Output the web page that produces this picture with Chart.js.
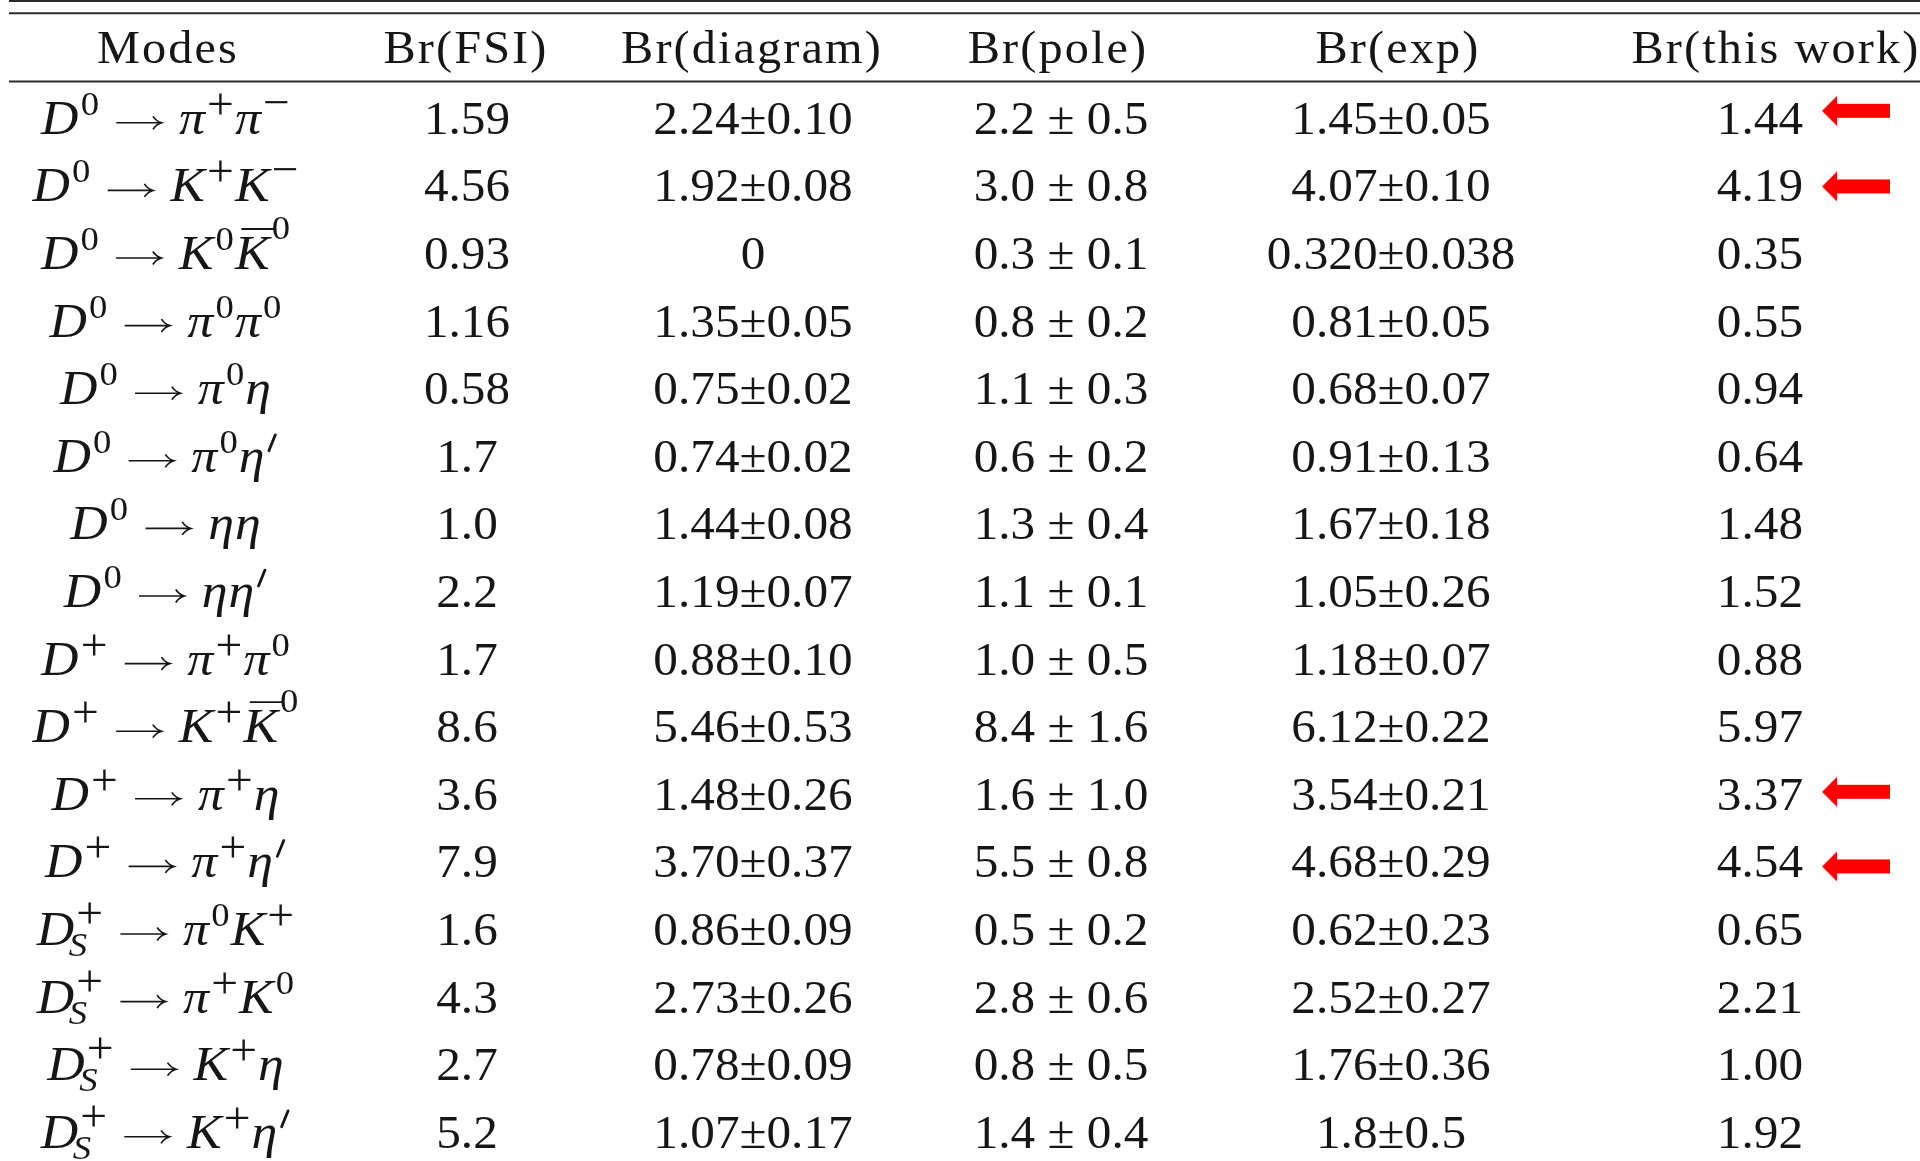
<!DOCTYPE html>
<html>
<head>
<meta charset="utf-8">
<script src="https://cdn.jsdelivr.net/npm/chart.js@4.4.0/dist/chart.umd.min.js"></script>
<style>
  html, body { margin: 0; padding: 0; background: #fff; }
  #wrap { width: 1920px; height: 1161px; }
</style>
</head>
<body>
<div id="wrap"><canvas id="tabla"></canvas></div>
<script>
// Cabeceras de columna
const headers = ['Modes', 'Br(FSI)', 'Br(diagram)', 'Br(pole)', 'Br(exp)', 'Br(this work)'];

// Modos de desintegración: ^ superíndice, _ subíndice, ~ barra sobre la letra, ' prima
const modes = [
    'D^0 → π^+π^-', 'D^0 → K^+K^-', 'D^0 → K^0~K^0', 'D^0 → π^0π^0',
    'D^0 → π^0η', "D^0 → π^0η'", 'D^0 → ηη', "D^0 → ηη'",
    'D^+ → π^+π^0', 'D^+ → K^+~K^0', 'D^+ → π^+η', "D^+ → π^+η'",
    'D_S^+ → π^0K^+', 'D_S^+ → π^+K^0', 'D_S^+ → K^+η', "D_S^+ → K^+η'"
];

const brFSI = ['1.59', '4.56', '0.93', '1.16', '0.58', '1.7', '1.0', '2.2',
    '1.7', '8.6', '3.6', '7.9', '1.6', '4.3', '2.7', '5.2'];

const brDiagram = ['2.24±0.10', '1.92±0.08', '0', '1.35±0.05', '0.75±0.02', '0.74±0.02',
    '1.44±0.08', '1.19±0.07', '0.88±0.10', '5.46±0.53', '1.48±0.26', '3.70±0.37',
    '0.86±0.09', '2.73±0.26', '0.78±0.09', '1.07±0.17'];

const brPole = ['2.2 ± 0.5', '3.0 ± 0.8', '0.3 ± 0.1', '0.8 ± 0.2', '1.1 ± 0.3', '0.6 ± 0.2',
    '1.3 ± 0.4', '1.1 ± 0.1', '1.0 ± 0.5', '8.4 ± 1.6', '1.6 ± 1.0', '5.5 ± 0.8',
    '0.5 ± 0.2', '2.8 ± 0.6', '0.8 ± 0.5', '1.4 ± 0.4'];

const brExp = ['1.45±0.05', '4.07±0.10', '0.320±0.038', '0.81±0.05', '0.68±0.07', '0.91±0.13',
    '1.67±0.18', '1.05±0.26', '1.18±0.07', '6.12±0.22', '3.54±0.21', '4.68±0.29',
    '0.62±0.23', '2.52±0.27', '1.76±0.36', '1.8±0.5'];

const brThisWork = ['1.44', '4.19', '0.35', '0.55', '0.94', '0.64', '1.48', '1.52',
    '0.88', '5.97', '3.37', '4.54', '0.65', '2.21', '1.00', '1.92'];

// Filas marcadas con flecha roja
const marked = [0, 1, 10, 11];

// ---- Maquetación ----
const FONT = '"Liberation Serif", "Times New Roman", serif';
const INK = '#161616';
const colX = [166, 467, 753, 1061, 1391, 1803];
const colAlign = ['center', 'center', 'center', 'center', 'center', 'right'];
const headX = [168, 466, 752, 1058, 1398, 1776];
const headerRow = -1.047;
const ruleRows = [-1.743, -1.562, -0.552];
const arrowX = 1856;
const arrowLift = [8, 0, 3, -4];
const stretchValues = 1.07;
const stretchHeader = 1.05;
const stretchModes = 1.08;

// Fila i -> y = i ; la escala se ajusta para 67.6 px por fila
const yMin = -118.8 / 67.6;
const yMax = (1161 - 118.8) / 67.6;

function parseMode(str) {
    const toks = [];
    let bar = false;
    for (let i = 0; i < str.length; i++) {
        const c = str[i];
        if (c === ' ') continue;
        if (c === '→') { toks.push({ arrow: true }); continue; }
        if (c === '~') { bar = true; continue; }
        const tk = { base: c, bar: bar };
        bar = false;
        while (i + 1 < str.length && "^_'".includes(str[i + 1])) {
            const m = str[i + 1];
            if (m === "'") { tk.prime = true; i += 1; }
            else {
                let v = str[i + 2];
                if (v === '-') v = '−';
                if (m === '^') tk.sup = v; else tk.sub = v;
                i += 2;
            }
        }
        toks.push(tk);
    }
    return toks;
}

// Dibuja (o mide) una fórmula; devuelve su ancho
function formula(ctx, toks, x0, base, draw) {
    let x = x0;
    ctx.textAlign = 'left';
    ctx.textBaseline = 'alphabetic';
    toks.forEach(tk => {
        if (tk.arrow) {
            x += 15;
            if (draw) {
                const ay = base - 11;
                ctx.strokeStyle = INK;
                ctx.lineWidth = 1.6;
                ctx.beginPath();
                ctx.moveTo(x, ay);
                ctx.lineTo(x + 41, ay);
                ctx.moveTo(x + 34, ay - 6.5);
                ctx.quadraticCurveTo(x + 37, ay - 1.5, x + 42, ay);
                ctx.quadraticCurveTo(x + 37, ay + 1.5, x + 34, ay + 6.5);
                ctx.stroke();
            }
            x += 42 + 16;
            return;
        }
        ctx.font = 'italic 48px ' + FONT;
        const wb = ctx.measureText(tk.base).width;
        if (draw) {
            ctx.fillText(tk.base, x, base);
            if (tk.bar) {
                ctx.strokeStyle = INK;
                ctx.lineWidth = 1.8;
                ctx.beginPath();
                ctx.moveTo(x + 6, base - 40);
                ctx.lineTo(x + wb + 5, base - 40);
                ctx.stroke();
            }
        }
        x += wb;
        let ws = 0;
        if (tk.sup) {
            const sign = tk.sup === '+' || tk.sup === '−';
            ctx.font = (sign ? '44px ' : '34px ') + FONT;
            let up = sign ? (tk.sup === '+' ? 15 : 17) : 19;
            if (tk.bar) up += 11;
            if (tk.sub) up += 2;
            const w = ctx.measureText(tk.sup).width;
            const dx = 2;
            if (draw) ctx.fillText(tk.sup, x + dx, base - up);
            ws = w + dx;
        }
        if (tk.prime) {
            if (draw) {
                ctx.strokeStyle = INK;
                ctx.lineWidth = 2.6;
                ctx.lineCap = 'round';
                ctx.beginPath();
                ctx.moveTo(x + 10, base - 37);
                ctx.lineTo(x + 4, base - 21);
                ctx.stroke();
                ctx.lineCap = 'butt';
            }
            ws = Math.max(ws, 12);
        }
        if (tk.sub) {
            ctx.font = 'italic 34px ' + FONT;
            const w = ctx.measureText(tk.sub).width;
            if (draw) ctx.fillText(tk.sub, x - 5, base + 11);
            ws = Math.max(ws, w - 4);
        }
        x += ws + 1;
    });
    return x - x0;
}

// Flecha roja como imagen de punto
function arrowImage(lift) {
    const c = document.createElement('canvas');
    c.width = 68;
    c.height = 30 + 2 * Math.abs(lift);
    const g = c.getContext('2d');
    const cy = c.height / 2 - lift;
    g.fillStyle = '#ff0000';
    g.beginPath();
    g.moveTo(0, cy);
    g.lineTo(15, cy - 15);
    g.lineTo(15, cy - 7);
    g.lineTo(68, cy - 7);
    g.lineTo(68, cy + 7);
    g.lineTo(15, cy + 7);
    g.lineTo(15, cy + 15);
    g.closePath();
    g.fill();
    return c;
}

const columns = [modes.map(parseMode), brFSI, brDiagram, brPole, brExp, brThisWork];

const textoCeldas = {
    id: 'textoCeldas',
    afterDatasetsDraw(chart) {
        const ctx = chart.ctx;
        ctx.save();
        ctx.fillStyle = INK;
        chart.data.datasets.forEach((ds, i) => {
            if (!ds.celdas) return;
            const meta = chart.getDatasetMeta(i);
            meta.data.forEach((pt, j) => {
                const t = ds.celdas[j];
                const base = pt.y + 15;
                ctx.save();
                if (ds.formula) {
                    ctx.translate(pt.x, 0);
                    ctx.scale(stretchModes, 1);
                    const w = formula(ctx, t, 0, base, false);
                    formula(ctx, t, -w / 2, base, true);
                    ctx.restore();
                    return;
                }
                ctx.font = '46px ' + FONT;
                ctx.textBaseline = 'alphabetic';
                if ('letterSpacing' in ctx) ctx.letterSpacing = ds.cabecera ? '2px' : '0px';
                ctx.textAlign = ds.cabecera ? 'center' : ds.align;
                ctx.translate(pt.x, base);
                ctx.scale(ds.cabecera ? stretchHeader : stretchValues, 1);
                ctx.fillText(t, 0, 0);
                ctx.restore();
            });
        });
        ctx.restore();
    }
};

const datasets = [];

ruleRows.forEach(r => {
    datasets.push({
        type: 'line',
        data: [{ x: 9, y: r }, { x: 1920, y: r }],
        borderColor: '#2b2b2b',
        borderWidth: 2,
        pointRadius: 0,
        showLine: true
    });
});

datasets.push({
    data: headers.map((h, c) => ({ x: headX[c], y: headerRow })),
    celdas: headers,
    cabecera: true,
    pointRadius: 0
});

columns.forEach((col, c) => {
    datasets.push({
        data: col.map((v, i) => ({ x: colX[c], y: i })),
        celdas: col,
        formula: c === 0,
        align: colAlign[c],
        pointRadius: 0
    });
});

datasets.push({
    data: marked.map(i => ({ x: arrowX, y: i })),
    pointStyle: arrowLift.map(arrowImage),
    pointRadius: 10
});

new Chart(document.getElementById('tabla'), {
    type: 'scatter',
    data: { datasets: datasets },
    options: {
        responsive: true,
        maintainAspectRatio: false,
        animation: false,
        events: [],
        layout: { padding: 0, autoPadding: false },
        plugins: { legend: { display: false }, tooltip: { enabled: false } },
        scales: {
            x: { type: 'linear', min: 0, max: 1920, display: false },
            y: { type: 'linear', min: yMin, max: yMax, reverse: true, display: false }
        }
    },
    plugins: [textoCeldas]
});
</script>
</body>
</html>
